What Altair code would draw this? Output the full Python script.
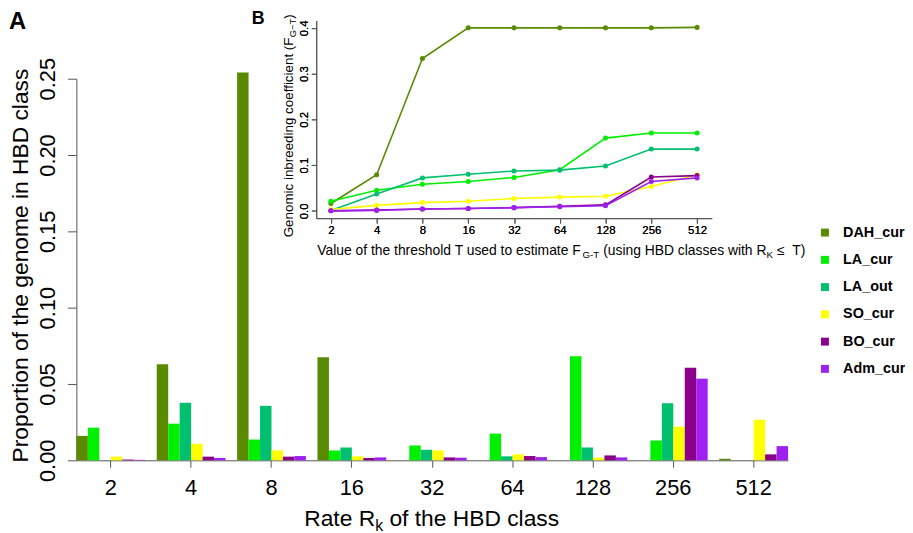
import altair as alt
import pandas as pd

# ---------------- data ----------------
classes = ["2", "4", "8", "16", "32", "64", "128", "256", "512"]
populations = ["DAH_cur", "LA_cur", "LA_out", "SO_cur", "BO_cur", "Adm_cur"]
colors = ["#5a8a00", "#00f000", "#00c070", "#ffff00", "#8b008b", "#a020f0"]

# Panel A: proportion of the genome in each HBD class
prop_DAH_cur = [0.016, 0.063, 0.254, 0.0675, 0.0, 0.0, 0.0, 0.0, 0.001]
prop_LA_cur = [0.0214, 0.024, 0.0136, 0.0065, 0.0097, 0.0175, 0.0682, 0.013, 0.0]
prop_LA_out = [0.0, 0.0377, 0.0357, 0.0084, 0.0069, 0.0026, 0.0084, 0.0374, 0.0]
prop_SO_cur = [0.0024, 0.0108, 0.0065, 0.0026, 0.0065, 0.0039, 0.0017, 0.022, 0.0266]
prop_BO_cur = [0.0005, 0.0024, 0.0024, 0.0015, 0.0019, 0.0028, 0.0032, 0.0606, 0.0039]
prop_Adm_cur = [0.0003, 0.0015, 0.0028, 0.0019, 0.0017, 0.0021, 0.0019, 0.0535, 0.0093]

# Panel B: F(G-T) for each threshold T
F_DAH_cur = [0.016, 0.079, 0.333, 0.400, 0.400, 0.400, 0.400, 0.400, 0.401]
F_LA_cur = [0.021, 0.045, 0.058, 0.064, 0.073, 0.090, 0.159, 0.170, 0.170]
F_LA_out = [0.001, 0.037, 0.072, 0.080, 0.087, 0.089, 0.098, 0.135, 0.135]
F_SO_cur = [0.003, 0.012, 0.018, 0.021, 0.027, 0.030, 0.032, 0.053, 0.079]
F_BO_cur = [0.000, 0.002, 0.004, 0.005, 0.007, 0.010, 0.013, 0.074, 0.077]
F_Adm_cur = [0.000, 0.001, 0.004, 0.005, 0.007, 0.009, 0.011, 0.064, 0.072]

props = [prop_DAH_cur, prop_LA_cur, prop_LA_out, prop_SO_cur, prop_BO_cur, prop_Adm_cur]
fvals = [F_DAH_cur, F_LA_cur, F_LA_out, F_SO_cur, F_BO_cur, F_Adm_cur]

bar_df = pd.DataFrame(
    [{"cls": c, "pop": p, "val": v}
     for p, vals in zip(populations, props) for c, v in zip(classes, vals)]
)
line_df = pd.DataFrame(
    [{"T": c, "pop": p, "F": v, "order": i}
     for p, vals in zip(populations, fvals) for i, (c, v) in enumerate(zip(classes, vals))]
)

# ---------------- layout helpers ----------------
PAD_L, PAD_T = 69, 0
W, H = 718, 454


def X(a):
    return a - 8 - PAD_L


def Y(a):
    return a - 8 - PAD_T


FONT = "Liberation Sans"
AW = {" ": 278, "(": 333, ")": 333, "-": 333, "\u2212": 584, "\u2264": 549, ".": 278,
      "A": 667, "B": 667, "C": 722, "D": 722, "F": 611, "G": 778, "H": 722, "K": 667,
      "R": 722, "T": 611, "V": 667, "a": 556, "b": 556, "c": 500, "d": 556, "e": 556,
      "f": 278, "g": 556, "h": 556, "i": 222, "k": 500, "l": 222, "m": 833, "n": 556,
      "o": 556, "p": 556, "r": 333, "s": 500, "t": 278, "u": 556, "w": 722}


def tw(s, size):
    return sum(AW.get(ch, 556) for ch in s) / 1000.0 * size


dummy = pd.DataFrame({"d": [0]})


def text_layer(txt, x, y, size, angle=0, weight="normal", align="left"):
    kw = dict(text=txt, fontSize=size, font=FONT, fontWeight=weight,
              align=align, baseline="alphabetic", color="#000")
    if angle:
        kw["angle"] = angle
    return alt.Chart(dummy).mark_text(**kw).encode(x=alt.value(x), y=alt.value(y))


def pieces(parts, x0, y0, angle=0):
    """Lay out text runs one after another; leading blanks become a gap."""
    layers = []
    pos = 0.0
    for txt, size, shift in parts:
        shown = txt.lstrip(" ")
        pos += (len(txt) - len(shown)) * tw(" ", size)
        if angle == 0:
            layers.append(text_layer(shown, x0 + pos, y0 + shift, size))
        else:
            layers.append(text_layer(shown, x0 + shift, y0 - pos, size, angle=270))
        pos += tw(shown, size)
    return layers


# ---------------- panel A (bars) ----------------
color_scale = alt.Scale(domain=populations, range=colors)

bars = alt.Chart(bar_df).mark_bar().encode(
    x=alt.X("cls:N", sort=classes,
            scale=alt.Scale(domain=classes, paddingInner=0.144, paddingOuter=0),
            axis=alt.Axis(orient="bottom", title=None, labelAngle=0, tickSize=7,
                          labelFontSize=22, labelBaseline="alphabetic", labelPadding=27,
                          domainColor="#555", tickColor="#555")),
    xOffset=alt.XOffset("pop:N", sort=populations,
                        scale=alt.Scale(domain=populations, paddingInner=0, paddingOuter=0)),
    y=alt.Y("val:Q",
            scale=alt.Scale(domain=[0, 0.25], range=[Y(462), Y(77)], nice=False),
            axis=alt.Axis(orient="left", values=[0, 0.05, 0.1, 0.15, 0.2, 0.25], format=".2f",
                          labelAngle=270, labelAlign="center", labelBaseline="alphabetic",
                          labelPadding=13, tickSize=9, labelFontSize=22,
                          title="Proportion of the genome in HBD class", titleFontSize=23,
                          titleAngle=270, titleAlign="center", titleBaseline="alphabetic",
                          titleX=X(28), titleY=Y(265),
                          domainColor="#555", tickColor="#555")),
    color=alt.Color("pop:N", scale=color_scale, sort=populations,
                    legend=alt.Legend(title=None, orient="none", legendX=X(825), legendY=Y(225),
                                      symbolType="square", symbolSize=64, symbolStrokeWidth=0,
                                      labelFontSize=14.5, labelFontWeight="bold", labelFont=FONT,
                                      labelColor="#000",
                                      rowPadding=12.5, labelOffset=11, padding=0)),
)

# ---------------- panel B (inset lines) ----------------
ix = alt.X("T:N", sort=classes,
           scale=alt.Scale(type="point", domain=classes, range=[X(319), X(718)], padding=0.32),
           axis=alt.Axis(orient="bottom", offset=-(H - Y(217.7)), title=None, labelAngle=0,
                         tickSize=5, labelFontSize=11.5, labelBaseline="alphabetic",
                         labelPadding=10.3, domainColor="#555", tickColor="#555"))
iy = alt.Y("F:Q",
           scale=alt.Scale(domain=[-0.016, 0.416], range=[Y(217.7), Y(18.3)], nice=False, zero=False),
           axis=alt.Axis(orient="left", offset=-X(319), values=[0, 0.1, 0.2, 0.3, 0.4], format=".1f",
                         labelAngle=270, labelAlign="center", labelBaseline="alphabetic",
                         labelPadding=4, tickSize=5, labelFontSize=11.5, title=None,
                         domainColor="#555", tickColor="#555"))

lines = alt.Chart(line_df).mark_line(strokeWidth=1.6).encode(
    x=ix, y=iy, order="order:Q",
    color=alt.Color("pop:N", scale=color_scale, sort=populations, legend=None),
    detail="pop:N",
)
points = alt.Chart(line_df).mark_circle(size=26, opacity=1).encode(
    x=ix, y=iy,
    color=alt.Color("pop:N", scale=color_scale, sort=populations, legend=None),
)

# ---------------- texts ----------------
texts = []
texts.append(text_layer("A", X(9), Y(27), 24, weight="bold"))
texts.append(text_layer("B", X(254), Y(22), 18, weight="bold"))

# x title of panel A with subscript k
xa_parts = [("Rate R", 23, 0), ("k", 16, 5), (" of the HBD class", 23, 0)]
xa_w = sum(tw(t, s) for t, s, _ in xa_parts)
texts += pieces(xa_parts, X(435.5) - xa_w / 2, Y(528))

# x title of panel B
xb_parts = [("Value of the threshold T used to estimate F", 14, 0), ("G-T", 9.8, 3),
            (" (using HBD classes with R", 14, 0), ("K", 9.8, 3), (" \u2264", 14, 0),
            ("  T)", 14, 0)]
texts += pieces(xb_parts, X(320), Y(255))

# y title of panel B (rotated)
yb_parts = [("Genomic inbreeding coefficient (F", 13.5, 0), ("G\u2212T", 9.5, 3), (")", 13.5, 0)]
texts += pieces(yb_parts, X(296), Y(237), angle=270)

chart = alt.layer(bars, lines, points, *texts).resolve_scale(
    x="independent", y="independent"
).resolve_legend(color="independent").properties(
    width=W, height=H,
    padding={"left": PAD_L, "top": PAD_T, "right": 118, "bottom": 71},
    autosize=alt.AutoSizeParams(type="none"),
).configure(font=FONT).configure_view(stroke=None).configure_axis(
    grid=False, labelColor="#000", titleColor="#000", labelFont=FONT, titleFont=FONT,
    titleFontWeight="normal", labelFlush=False, labelOverlap=False,
)

chart.save("out.html", embed_options={"renderer": "svg", "actions": False})
